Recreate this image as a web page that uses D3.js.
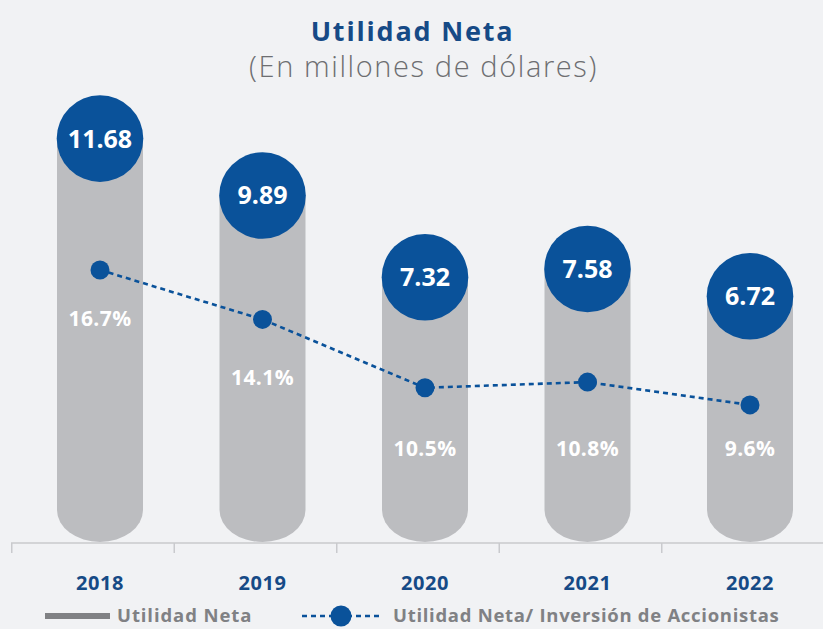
<!DOCTYPE html>
<html>
<head>
<meta charset="utf-8">
<script src="https://cdn.jsdelivr.net/npm/d3@7"></script>
<style>
  html, body { margin: 0; padding: 0; background: #f1f2f4; }
  svg { display: block; font-family: "Open Sans", "Noto Sans", sans-serif; }
</style>
</head>
<body>
<div id="chart"></div>
<script>
// data
const years = ["2018", "2019", "2020", "2021", "2022"];
const utilidadNeta = [11.68, 9.89, 7.32, 7.58, 6.72];
const utilidadInversion = [16.7, 14.1, 10.5, 10.8, 9.6];
const legendLabels = ["Utilidad Neta", "Utilidad Neta/ Inversión de Accionistas"];

const width = 823;
const height = 629;
const blue = "#0a529a";
const darkBlue = "#164a86";
const barGray = "#bcbdc0";
const legendGray = "#808184";

const rows = years.map((year, i) => ({
    year: year,
    value: utilidadNeta[i],
    pct: utilidadInversion[i]
}));

const svg = d3.select("#chart")
    .append("svg")
    .attr("width", width)
    .attr("height", height);

svg.append("rect")
    .attr("width", width)
    .attr("height", height)
    .attr("fill", "#f1f2f4");

// title
svg.append("text")
    .attr("x", width / 2 + 1)
    .attr("y", 41)
    .attr("text-anchor", "middle")
    .attr("font-size", 27)
    .attr("font-weight", 700)
    .attr("letter-spacing", 1.8)
    .attr("fill", darkBlue)
    .text("Utilidad Neta");

svg.append("text")
    .attr("x", width / 2 + 12)
    .attr("y", 77)
    .attr("text-anchor", "middle")
    .attr("font-size", 29)
    .attr("font-weight", 300)
    .attr("letter-spacing", 1.6)
    .attr("fill", "#6d6e71")
    .text("(En millones de dólares)");

// scales
const x = d3.scaleBand()
    .domain(years)
    .range([18.75, 831.25]);

const y = d3.scaleLinear()
    .domain([0, 12])
    .range([510, 128.4]);

const yPct = d3.scaleLinear()
    .domain([0, 20])
    .range([587.3, 207.3]);

// pct labels sit under the dots but never lower than the bar base area
const labelY = d3.scaleLinear()
    .domain([11, 16.7])
    .range([456, 326])
    .clamp(true);

const barWidth = 86;
const rx = barWidth / 2;
const ry = 32;
const cx = d => x(d.year) + x.bandwidth() / 2;

// cylinder bars
svg.append("g")
    .selectAll("path")
    .data(rows)
    .join("path")
    .attr("fill", barGray)
    .attr("d", d => {
        const x0 = cx(d) - rx;
        const x1 = cx(d) + rx;
        const top = y(d.value);
        const base = y(0);
        return `M${x0},${top}L${x0},${base}A${rx},${ry} 0 0 0 ${x1},${base}L${x1},${top}Z`;
    });

// axis
const axisY = 543;
const axis = svg.append("g");
axis.append("line")
    .attr("x1", 11)
    .attr("x2", width)
    .attr("y1", axisY)
    .attr("y2", axisY)
    .attr("stroke", "#c9cacd")
    .attr("stroke-width", 1.5);

axis.selectAll(".tick")
    .data(years)
    .join("line")
    .attr("class", "tick")
    .attr("x1", d => x(d) - 7)
    .attr("x2", d => x(d) - 7)
    .attr("y1", axisY)
    .attr("y2", axisY + 10)
    .attr("stroke", "#c9cacd")
    .attr("stroke-width", 1.5);

axis.selectAll(".year")
    .data(years)
    .join("text")
    .attr("class", "year")
    .attr("x", d => x(d) + x.bandwidth() / 2)
    .attr("y", 590)
    .attr("text-anchor", "middle")
    .attr("font-size", 20)
    .attr("font-weight", 700)
    .attr("letter-spacing", 0.6)
    .attr("fill", darkBlue)
    .text(d => d);

// value circles on top of the bars
const heads = svg.append("g")
    .selectAll("g")
    .data(rows)
    .join("g")
    .attr("transform", d => `translate(${cx(d)},${y(d.value)})`);

heads.append("circle")
    .attr("r", 43.3)
    .attr("fill", blue);

heads.append("text")
    .attr("dy", "0.36em")
    .attr("text-anchor", "middle")
    .attr("font-size", 25)
    .attr("font-weight", 700)
    .attr("fill", "#ffffff")
    .text(d => d.value.toFixed(2));

// dashed ratio line
const line = d3.line()
    .x(d => cx(d))
    .y(d => yPct(d.pct));

svg.append("path")
    .datum(rows)
    .attr("fill", "none")
    .attr("stroke", blue)
    .attr("stroke-width", 2.6)
    .attr("stroke-dasharray", "5,4")
    .attr("d", line);

svg.append("g")
    .selectAll("circle")
    .data(rows)
    .join("circle")
    .attr("cx", d => cx(d))
    .attr("cy", d => yPct(d.pct))
    .attr("r", 9.5)
    .attr("fill", blue);

svg.append("g")
    .selectAll("text")
    .data(rows)
    .join("text")
    .attr("x", d => cx(d))
    .attr("y", d => labelY(d.pct))
    .attr("text-anchor", "middle")
    .attr("font-size", 21)
    .attr("font-weight", 700)
    .attr("letter-spacing", 0.4)
    .attr("fill", "#ffffff")
    .text(d => d.pct.toFixed(1) + "%");

// legend
const legendY = 616;
const legend = svg.append("g");
legend.append("rect")
    .attr("x", 45)
    .attr("y", legendY - 3)
    .attr("width", 65)
    .attr("height", 6)
    .attr("fill", legendGray);

legend.append("text")
    .attr("x", 117)
    .attr("y", legendY + 6)
    .attr("font-size", 18.5)
    .attr("font-weight", 700)
    .attr("letter-spacing", 0.9)
    .attr("fill", legendGray)
    .text(legendLabels[0]);

legend.append("line")
    .attr("x1", 302)
    .attr("x2", 380)
    .attr("y1", legendY)
    .attr("y2", legendY)
    .attr("stroke", blue)
    .attr("stroke-width", 2.6)
    .attr("stroke-dasharray", "5,4");

legend.append("circle")
    .attr("cx", 341)
    .attr("cy", legendY)
    .attr("r", 10.5)
    .attr("fill", blue);

legend.append("text")
    .attr("x", 393)
    .attr("y", legendY + 6)
    .attr("font-size", 18.5)
    .attr("font-weight", 700)
    .attr("letter-spacing", 0.7)
    .attr("fill", legendGray)
    .text(legendLabels[1]);
</script>
</body>
</html>
